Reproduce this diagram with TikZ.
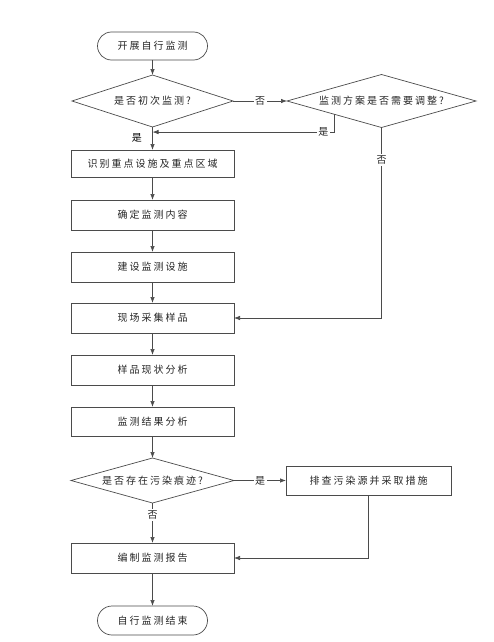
\documentclass[tikz,border=0pt]{standalone}
\usepackage{fontspec}
\newfontfamily\cjkfont[LetterSpace=20]{Noto Sans CJK SC}
\usepackage{tikz}
\usetikzlibrary{arrows.meta,positioning,shapes.geometric,calc}
\definecolor{flowLine}{RGB}{75,75,75}

\begin{document}
\begin{tikzpicture}[
    x=1pt, y=-1pt,
    node distance=22pt,
    font=\cjkfont\fontsize{10pt}{12pt}\selectfont,
    % 通用區塊樣式
    block/.style={
        draw=flowLine,
        line width=0.7pt,
        align=center,
        text=black!85,
        inner sep=0pt,
        outer sep=0pt
    },
    % 處理步驟 (矩形)
    process/.style={
        block,
        minimum width=163pt,
        minimum height=30pt
    },
    % 開始 / 結束
    terminal/.style={
        block,
        rounded corners=14pt,
        minimum width=110pt,
        minimum height=28pt
    },
    % 判斷 (菱形)
    decision/.style={
        block,
        diamond,
        aspect=3
    },
    % 連線上的 是 / 否
    tag/.style={
        fill=white,
        inner sep=1.5pt,
        text=black!85
    },
    % 箭頭樣式
    arrow/.style={
        -{Latex[length=6pt, width=4.5pt]},
        draw=flowLine,
        line width=0.7pt
    }
]

    \useasboundingbox (0,0) rectangle (494,642);

    % --- 1. 主流程 ---
    \node[terminal] (start) at (152.5,46) {开展自行监测};
    \node[decision, minimum width=161pt, minimum height=52pt, below=15pt of start] (first) {是否初次监测?};
    \node[decision, minimum width=189pt, minimum height=53pt, right=54pt of first] (adjust) {监测方案是否需要调整?};

    \node[process, minimum height=27pt, below=23pt of first] (key) {识别重点设施及重点区域};
    \node[process, below=23pt of key] (content) {确定监测内容};
    \node[process, below=22pt of content] (build) {建设监测设施};
    \node[process, below=21pt of build] (sample) {现场采集样品};
    \node[process, below=22pt of sample] (status) {样品现状分析};
    \node[process, minimum height=29pt, below=22pt of status] (result) {监测结果分析};

    % --- 2. 污染判斷 ---
    \node[decision, minimum width=163pt, minimum height=45pt, below=22pt of result] (trace) {是否存在污染痕迹?};
    \node[process, minimum width=165pt, minimum height=29pt, right=52pt of trace] (fix) {排查污染源并采取措施};

    \node[process, below=40pt of trace] (report) {编制监测报告};
    \node[terminal, minimum height=29pt, rounded corners=14.5pt, below=33pt of report] (finish) {自行监测结束};

    % 回流匯合點
    \coordinate (merge) at ($(first.south)!0.22!(key.north)$);
    \coordinate (adjustyes) at ($(adjust.west)!0.5!(adjust.south)$);

    % --- 3. 連線 ---
    \draw[arrow] (start) -- (first);
    \draw[arrow] (first.east) -- (adjust.west) node[tag, midway] {否};
    \draw[arrow] (first.south) -- (key.north) node[pos=0.48, left=7pt] {是};
    \draw[arrow] (adjustyes) |- (merge) node[tag, pos=0.53] {是};
    \draw[arrow] (adjust.south) |- (sample.east) node[tag, pos=0.086] {否};

    \draw[arrow] (key) -- (content);
    \draw[arrow] (content) -- (build);
    \draw[arrow] (build) -- (sample);
    \draw[arrow] (sample) -- (status);
    \draw[arrow] (status) -- (result);
    \draw[arrow] (result) -- (trace);

    \draw[arrow] (trace.east) -- (fix.west) node[tag, midway] {是};
    \draw[arrow] (trace.south) -- (report.north) node[tag, pos=0.3] {否};
    \draw[arrow] (fix.south) |- (report.east);
    \draw[arrow] (report) -- (finish);

\end{tikzpicture}
\end{document}
